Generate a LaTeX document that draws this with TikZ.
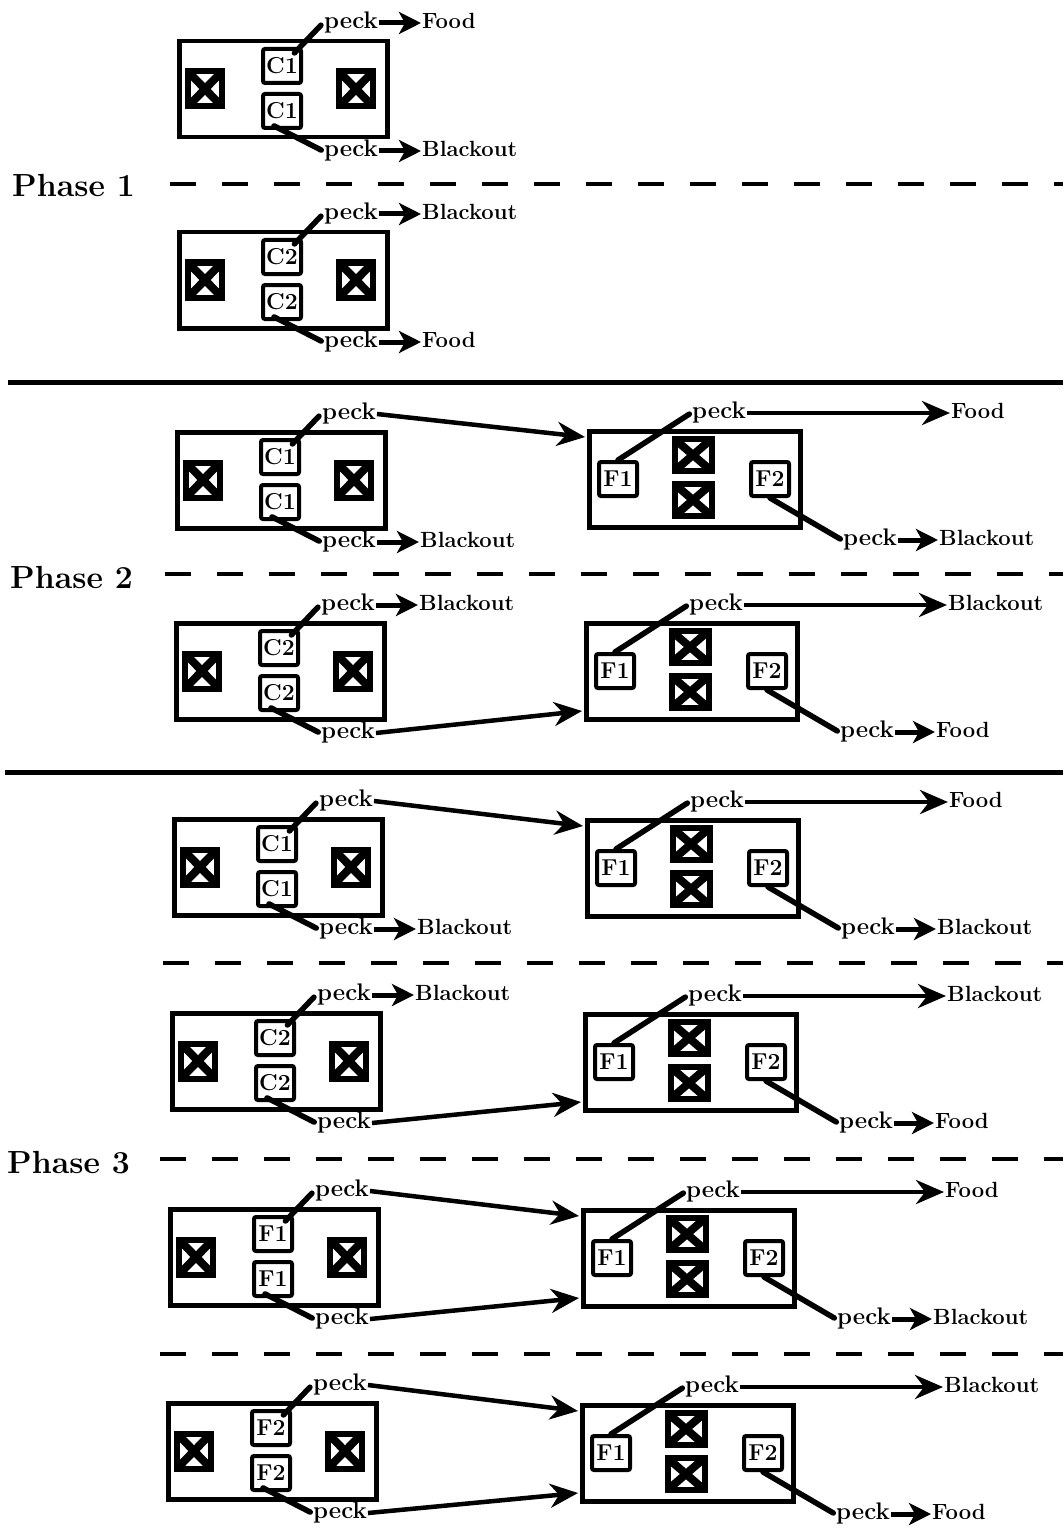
\documentclass[tikz,border=0pt]{standalone}
\usetikzlibrary{arrows.meta,positioning}

\tikzset{
  panel/.style={draw, line width=4.5pt, minimum width=208pt, minimum height=96pt, inner sep=0pt, anchor=north west},
  xbox/.style={draw, line width=6pt, minimum width=34pt, minimum height=35pt, inner sep=0pt,
    path picture={\draw[line width=8pt] (path picture bounding box.north west) -- (path picture bounding box.south east)
      (path picture bounding box.north east) -- (path picture bounding box.south west);}},
  keybox/.style={draw, line width=4pt, fill=white, rounded corners=2pt, minimum width=38pt, minimum height=34pt,
    inner sep=0pt, font=\fontsize{23}{24}\selectfont\bfseries},
  pecktext/.style={inner sep=1pt, text height=16pt, text depth=5pt, font=\fontsize{24}{26}\selectfont\bfseries},
  outcome/.style={inner sep=1pt, text height=16pt, text depth=5pt, font=\fontsize{22}{24}\selectfont\bfseries},
  phaselabel/.style={anchor=west, inner sep=0pt, font=\fontsize{32}{34}\selectfont\bfseries},
  keyline/.style={line width=5.5pt, line cap=round},
  shortarrow/.style={line width=5pt, -{Stealth[length=22pt,width=22pt,inset=6pt]}},
  longarrow/.style={line width=4.5pt, -{Stealth[length=28pt,width=24pt,inset=9pt]}},
  dashline/.style={line width=4pt, dash pattern=on 26pt off 26pt},
  solidline/.style={line width=5pt}
}

% left chamber: name, x, y (top left corner), label of the centre keys
\newcommand{\leftpanel}[4]{%
  \node[panel] (#1) at (#2,#3) {};
  \node[xbox] (#1-xl) at (#2+28,#3+50) {};
  \node[xbox] (#1-xr) at (#2+179,#3+50) {};
  \node[keybox] (#1-kt) at (#2+105,#3+27) {#4};
  \node[keybox] (#1-kb) at (#2+105,#3+72) {#4};
  \node[pecktext] (#1-pt) at (#2+174,#3-16) {peck};
  \node[pecktext] (#1-pb) at (#2+174,#3+112) {peck};
  \draw[keyline, shorten <=18pt, shorten >=3pt] (#1-kt.center) -- (#1-pt.west);
  \draw[keyline, shorten <=-9pt, shorten >=2pt] (#1-kb.south) -- (#1-pb.west);
}

% right chamber: name, x, y, outcome of F1, outcome of F2
\newcommand{\rightpanel}[5]{%
  \node[panel, minimum width=211pt] (#1) at (#2,#3) {};
  \node[keybox] (#1-ka) at (#2+31,#3+50) {F1};
  \node[xbox, minimum width=37pt, minimum height=32pt] (#1-xt) at (#2+106,#3+26) {};
  \node[xbox, minimum width=37pt, minimum height=32pt] (#1-xb) at (#2+106,#3+71) {};
  \node[keybox] (#1-kc) at (#2+183,#3+50) {F2};
  \node[pecktext] (#1-pt) at (#2+132,#3-16) {peck};
  \node[pecktext] (#1-pb) at (#2+283,#3+111) {peck};
  \node[outcome, anchor=west] (#1-ot) at (#2+363,#3-16) {#4};
  \node[outcome, right=40pt of #1-pb] (#1-ob) {#5};
  \coordinate (#1-in1) at (#2-2,#3+8);
  \coordinate (#1-in2) at (#2-2,#3+90);
  \draw[keyline, shorten >=2pt] (#1-ka.north) -- (#1-pt.west);
  \draw[keyline, shorten >=2pt] (#1-kc.south) -- (#1-pb.west);
  \draw[longarrow] (#1-pt.east) -- (#1-ot.west);
  \draw[shortarrow] (#1-pb.east) -- (#1-ob.west);
}

\begin{document}
\begin{tikzpicture}[x=1pt, y=-1pt]
  \useasboundingbox (0,0) rectangle (1063,1530);

  % Phase 1
  \leftpanel{pa}{177}{39}{C1}
  \node[outcome, right=42pt of pa-pt] (pa-ot) {Food};
  \node[outcome, right=42pt of pa-pb] (pa-ob) {Blackout};
  \draw[shortarrow] (pa-pt.east) -- (pa-ot.west);
  \draw[shortarrow] (pa-pb.east) -- (pa-ob.west);

  \node[phaselabel] (ph1) at (12,185) {Phase 1};
  \draw[dashline] (170,184) -- (1063,184);

  \leftpanel{pb}{177}{230}{C2}
  \node[outcome, right=42pt of pb-pt] (pb-ot) {Blackout};
  \node[outcome, right=42pt of pb-pb] (pb-ob) {Food};
  \draw[shortarrow] (pb-pt.east) -- (pb-ot.west);
  \draw[shortarrow] (pb-pb.east) -- (pb-ob.west);

  \draw[solidline] (8,382) -- (1063,382);

  % Phase 2
  \leftpanel{qa}{175}{430}{C1}
  \rightpanel{qaR}{587}{429}{Food}{Blackout}
  \node[outcome, right=42pt of qa-pb] (qa-ob) {Blackout};
  \draw[longarrow] (qa-pt.east) -- (qaR-in1);
  \draw[shortarrow] (qa-pb.east) -- (qa-ob.west);

  \node[phaselabel] (ph2) at (10,577) {Phase 2};
  \draw[dashline] (165,574) -- (1063,574);

  \leftpanel{qb}{174}{621}{C2}
  \rightpanel{qbR}{584}{621}{Blackout}{Food}
  \node[outcome, right=42pt of qb-pt] (qb-ot) {Blackout};
  \draw[shortarrow] (qb-pt.east) -- (qb-ot.west);
  \draw[longarrow] (qb-pb.east) -- (qbR-in2);

  \draw[solidline] (5,772) -- (1063,772);

  % Phase 3
  \leftpanel{ra}{172}{817}{C1}
  \rightpanel{raR}{585}{818}{Food}{Blackout}
  \node[outcome, right=42pt of ra-pb] (ra-ob) {Blackout};
  \draw[longarrow] (ra-pt.east) -- (raR-in1);
  \draw[shortarrow] (ra-pb.east) -- (ra-ob.west);

  \draw[dashline] (163,963) -- (1063,963);

  \leftpanel{rb}{170}{1011}{C2}
  \rightpanel{rbR}{583}{1012}{Blackout}{Food}
  \node[outcome, right=42pt of rb-pt] (rb-ot) {Blackout};
  \draw[shortarrow] (rb-pt.east) -- (rb-ot.west);
  \draw[longarrow] (rb-pb.east) -- (rbR-in2);

  \node[phaselabel] (ph3) at (7,1163) {Phase 3};
  \draw[dashline] (160,1159) -- (1063,1159);

  \leftpanel{rc}{168}{1207}{F1}
  \rightpanel{rcR}{581}{1208}{Food}{Blackout}
  \draw[longarrow] (rc-pt.east) -- (rcR-in1);
  \draw[longarrow] (rc-pb.east) -- (rcR-in2);

  \draw[dashline] (160,1354) -- (1063,1354);

  \leftpanel{rd}{166}{1401}{F2}
  \rightpanel{rdR}{580}{1403}{Blackout}{Food}
  \draw[longarrow] (rd-pt.east) -- (rdR-in1);
  \draw[longarrow] (rd-pb.east) -- (rdR-in2);
\end{tikzpicture}
\end{document}
